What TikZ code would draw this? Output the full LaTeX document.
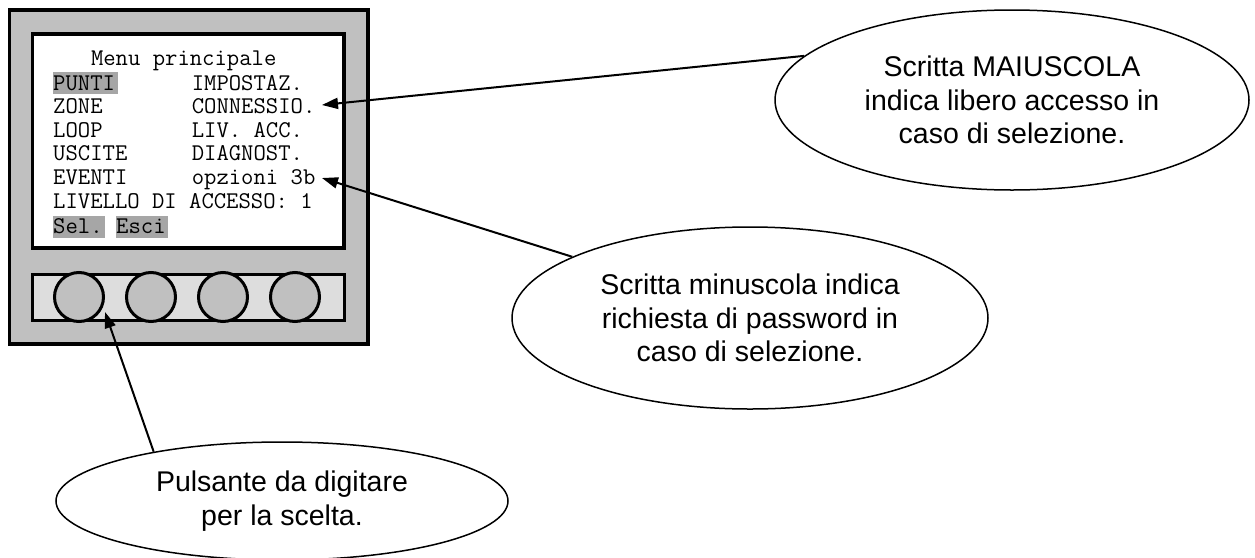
\documentclass[tikz,border=0pt]{standalone}
\usepackage{fontspec}
\setmainfont{Liberation Sans}
\usetikzlibrary{shapes.geometric,arrows.meta}
\definecolor{devgray}{HTML}{C0C0C0}
\definecolor{barfill}{HTML}{DDDDDD}
\definecolor{hlgray}{HTML}{A6A6A6}
\begin{document}
\begin{tikzpicture}[x=1pt,y=-1pt,
 device/.style={draw=black,line width=3.5pt,fill=devgray},
 screenbox/.style={draw=black,line width=3.5pt,fill=white},
 bar/.style={draw=black,line width=3pt,fill=barfill},
 btn/.style={circle,draw=black,line width=3pt,fill=devgray,minimum size=49pt,inner sep=0pt},
 mono/.style={anchor=base west,inner sep=0pt,font=\fontsize{24}{26}\selectfont\ttfamily},
 hl/.style={fill=hlgray,draw=none},
 bubble/.style={ellipse,draw=black,line width=1.5pt,fill=white,inner sep=0pt,align=center,font=\fontsize{28.5}{33.5}\selectfont},
 arr/.style={line width=2pt,-{Triangle[length=16pt,width=11pt]}},
]
\useasboundingbox[fill=white] (0,0) rectangle (1255,557);

% device
\draw[device] (9.5,10) rectangle (368,344);
\draw[screenbox] (32.5,34) rectangle (344,248);
\draw[bar] (32.5,274) rectangle (344,320);
\node[btn] (b1) at (79,297) {};
\node[btn] (b2) at (151,297) {};
\node[btn] (b3) at (223,297) {};
\node[btn] (b4) at (295,297) {};

% highlights
\fill[hl] (53,72) rectangle (118,94);
\fill[hl] (53,216) rectangle (105,238);
\fill[hl] (116,216) rectangle (168,238);

% screen text
\node[mono] (title) at (90.8,65) {Menu principale};
\node[mono] (c11) at (53,90) {PUNTI};
\node[mono] (c12) at (53,113.5) {ZONE};
\node[mono] (c13) at (53,137) {LOOP};
\node[mono] (c14) at (53,160.5) {USCITE};
\node[mono] (c15) at (53,184) {EVENTI};
\node[mono] (c21) at (191.6,90) {IMPOSTAZ.};
\node[mono] (c22) at (191.6,113.5) {CONNESSIO.};
\node[mono] (c23) at (191.6,137) {LIV. ACC.};
\node[mono] (c24) at (191.6,160.5) {DIAGNOST.};
\node[mono] (c25) at (191.6,184) {opzioni 3b};
\node[mono] (liv) at (53,208) {LIVELLO DI ACCESSO: 1};
\node[mono] (sel) at (53,233) {Sel.};
\node[mono] (esci) at (116,233) {Esci};

% bubbles
\node[bubble,minimum width=474pt,minimum height=180pt] (e1) at (1012,100)
  {Scritta MAIUSCOLA\\indica libero accesso in\\caso di selezione.};
\node[bubble,minimum width=476pt,minimum height=182pt] (e2) at (750,318)
  {Scritta minuscola indica\\richiesta di password in\\caso di selezione.};
\node[bubble,minimum width=452pt,minimum height=118pt] (e3) at (282,501)
  {Pulsante da digitare\\per la scelta.};

% arrows
\coordinate (t1) at (322,105);
\coordinate (t2) at (322,178);
\coordinate (t3) at (105,312);
\draw[arr] (e1.168.5) -- (t1);
\draw[arr] (e2.161) -- (t2);
\draw[arr] (e3.159) -- (t3);
\end{tikzpicture}
\end{document}
